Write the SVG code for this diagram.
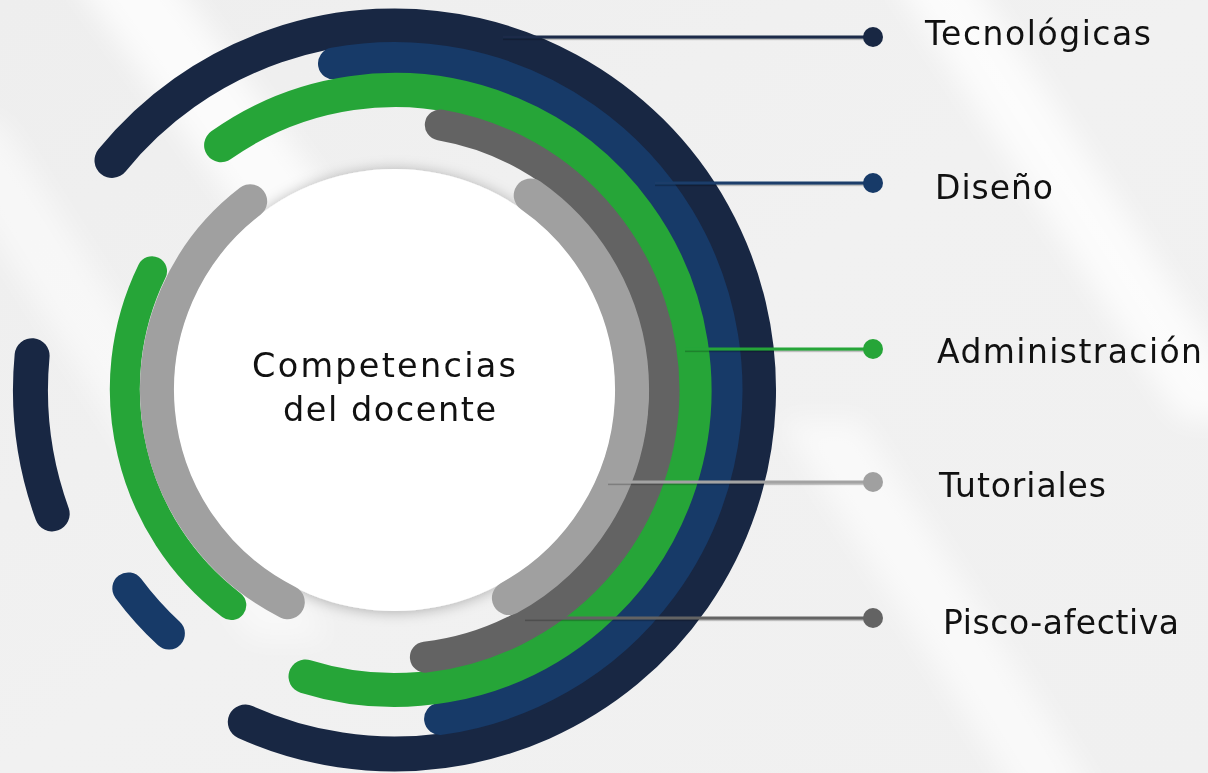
<svg xmlns="http://www.w3.org/2000/svg" width="1208" height="773" viewBox="0 0 1208 773">
  <defs>
    <linearGradient id="bgGrad" x1="0" y1="0" x2="1" y2="1">
      <stop offset="0" stop-color="#eeeeee"/>
      <stop offset="0.5" stop-color="#f1f1f1"/>
      <stop offset="1" stop-color="#f0f0f0"/>
    </linearGradient>
    <filter id="soft" x="-20%" y="-20%" width="140%" height="140%">
      <feGaussianBlur stdDeviation="14"/>
    </filter>
    <filter id="discShadow" x="-20%" y="-20%" width="140%" height="140%">
      <feDropShadow dx="0" dy="1" stdDeviation="7" flood-color="#000" flood-opacity="0.28"/>
    </filter>
    <filter id="lineShadow" filterUnits="userSpaceOnUse" x="0" y="0" width="1208" height="773">
      <feDropShadow dx="0" dy="1.2" stdDeviation="0.7" flood-color="#000" flood-opacity="0.35"/>
    </filter>
  </defs>
  <style>
    .ring { fill: none; stroke-linecap: round; }
    .navy { stroke: #182743; stroke-width: 35; }
    .blue { stroke: #173a68; stroke-width: 32; }
    .green { stroke: #26a538; stroke-width: 34; }
    .green-in { stroke: #26a538; stroke-width: 30; }
    .dgray { stroke: #636363; stroke-width: 31; }
    .lgray { stroke: #a0a0a0; stroke-width: 34; }
    .conn { fill: none; stroke-width: 3; filter: url(#lineShadow); }
    .label { font-family: "DejaVu Sans", "Liberation Sans", sans-serif; font-size: 33px; fill: #111111; }
    .title { font-family: "DejaVu Sans", "Liberation Sans", sans-serif; font-size: 33.5px; fill: #111111; text-anchor: middle; }
  </style>

  <!-- backdrop with soft diagonal light streaks -->
  <rect width="1208" height="773" fill="url(#bgGrad)"/>
  <g filter="url(#soft)" opacity="0.75">
    <polygon points="60,-40 160,-40 560,520 460,520" fill="#ffffff"/>
    <polygon points="-80,120 0,120 330,640 250,640" fill="#ffffff" opacity="0.7"/>
    <polygon points="880,-40 960,-40 1260,420 1180,420" fill="#ffffff"/>
    <polygon points="780,420 860,420 1100,800 1020,800" fill="#ffffff" opacity="0.8"/>
  </g>

  <!-- central disc -->
  <g id="centre">
    <circle cx="394.5" cy="390" r="221" fill="#ffffff" filter="url(#discShadow)"/>
    <text class="title" x="384" y="377" textLength="264">Competencias</text>
    <text class="title" x="389.5" y="421" textLength="213">del docente</text>
  </g>

  <!-- concentric rings, centre (394.5, 390); long arcs split in two halves -->
  <g id="ring-tecnologicas">
    <path class="ring navy" d="M112.0 160.4 A364 364 0 0 1 748.7 306.0 A364 364 0 0 1 245.3 722.0"/>
    <path class="ring navy" d="M32.1 355.7 A364 364 0 0 0 52.2 513.9"/>
  </g>
  <g id="ring-diseno">
    <path class="ring blue" d="M334.0 63.5 A332 332 0 0 1 722.2 336.9 A332 332 0 0 1 440.1 718.9"/>
    <path class="ring blue" d="M128.3 588.4 A332 332 0 0 0 168.9 633.6"/>
  </g>
  <g id="ring-administracion">
    <path class="ring green" d="M221.1 145.2 A300 300 0 0 1 690.8 342.9 A300 300 0 0 1 305.5 676.5"/>
    <path class="ring green-in" d="M152.0 271.2 A269.5 269.5 0 0 0 132.3 452.2 A269.5 269.5 0 0 0 231.3 605.1"/>
  </g>
  <g id="ring-pisco">
    <path class="ring dgray" d="M440.3 124.9 A269.5 269.5 0 0 1 663.9 397.5 A269.5 269.5 0 0 1 425.4 657.2"/>
  </g>
  <g id="ring-tutoriales">
    <path class="ring lgray" d="M530.7 195.4 A237.5 237.5 0 0 1 631.7 402.8 A237.5 237.5 0 0 1 508.9 598.1"/>
    <path class="ring lgray" d="M250.2 201.3 A237.5 237.5 0 0 0 158.0 412.1 A237.5 237.5 0 0 0 287.8 602.2"/>
  </g>

  <!-- leader lines -->
  <g id="connectors">
    <path class="conn" stroke="#1d2b48" d="M503 37 H873"/>
    <path class="conn" stroke="#1a3c6b" d="M655 183 H873"/>
    <path class="conn" stroke="#26a538" d="M685 349 H873"/>
    <path class="conn" stroke="#a3a3a3" d="M608 482 H873"/>
    <path class="conn" stroke="#646464" d="M525 618 H873"/>
  </g>

  <!-- labels with end dots -->
  <g id="label-tecnologicas">
    <circle cx="873" cy="37" r="10" fill="#182743"/>
    <text class="label" x="925" y="45" textLength="226">Tecnológicas</text>
  </g>
  <g id="label-diseno">
    <circle cx="873" cy="183" r="10" fill="#173a68"/>
    <text class="label" x="935" y="199" textLength="118">Diseño</text>
  </g>
  <g id="label-administracion">
    <circle cx="873" cy="349" r="10" fill="#26a538"/>
    <text class="label" x="937" y="363" textLength="265">Administración</text>
  </g>
  <g id="label-tutoriales">
    <circle cx="873" cy="482" r="10" fill="#a0a0a0"/>
    <text class="label" x="939" y="497" textLength="167">Tutoriales</text>
  </g>
  <g id="label-pisco">
    <circle cx="873" cy="618" r="10" fill="#636363"/>
    <text class="label" x="943" y="634" textLength="236">Pisco-afectiva</text>
  </g>
</svg>
